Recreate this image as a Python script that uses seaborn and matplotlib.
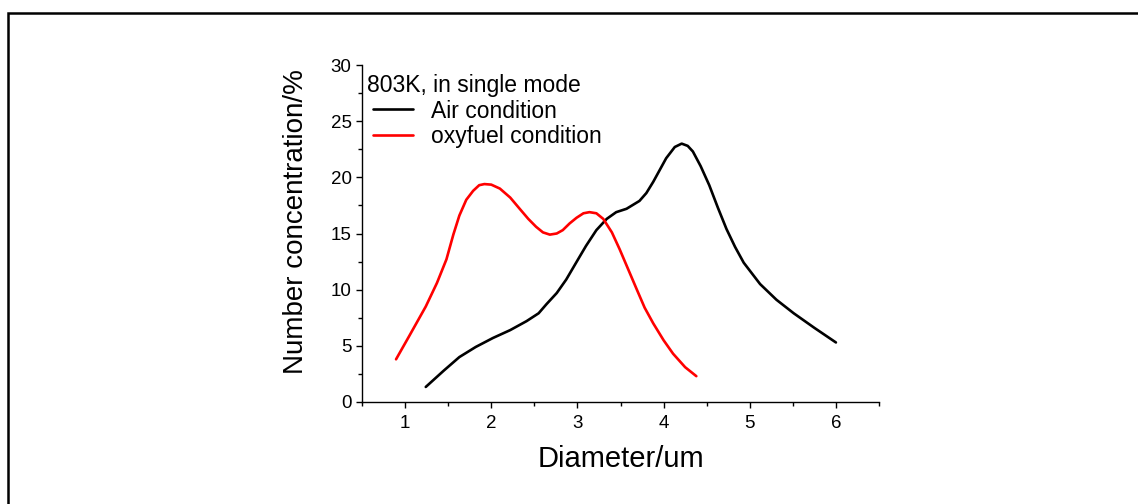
import matplotlib
matplotlib.use("Agg")
import matplotlib.pyplot as plt
import matplotlib.patches as mpatches
from matplotlib.ticker import MultipleLocator
import seaborn as sns
import pandas as pd

air_x = [1.24, 1.45, 1.63, 1.82, 2.02, 2.22, 2.41, 2.55, 2.64, 2.76, 2.87, 3.00, 3.10, 3.22,
         3.34, 3.45, 3.57, 3.72, 3.80, 3.88, 4.03, 4.13, 4.21, 4.28, 4.34, 4.43, 4.53, 4.63,
         4.73, 4.83, 4.93, 5.12, 5.31, 5.51, 5.75, 6.00]
air_y = [1.34, 2.8, 4.0, 4.9, 5.7, 6.4, 7.2, 7.9, 8.7, 9.7, 10.9, 12.6, 13.9, 15.3,
         16.3, 16.9, 17.2, 17.9, 18.6, 19.6, 21.7, 22.7, 23.0, 22.8, 22.3, 21.0, 19.3, 17.3,
         15.4, 13.8, 12.4, 10.5, 9.1, 7.9, 6.6, 5.3]
oxy_x = [0.895, 1.05, 1.24, 1.37, 1.48, 1.56, 1.63, 1.71, 1.79, 1.86, 1.92, 2.00, 2.10, 2.22,
         2.33, 2.43, 2.52, 2.60, 2.68, 2.76, 2.83, 2.91, 2.99, 3.07, 3.14, 3.22, 3.30, 3.40,
         3.49, 3.59, 3.69, 3.78, 3.88, 4.00, 4.11, 4.25, 4.38]
oxy_y = [3.8, 5.9, 8.5, 10.6, 12.7, 14.9, 16.6, 18.0, 18.8, 19.3, 19.4, 19.35, 19.0, 18.2,
         17.2, 16.3, 15.6, 15.1, 14.9, 15.0, 15.3, 15.9, 16.4, 16.8, 16.9, 16.8, 16.3, 15.1,
         13.6, 11.8, 10.0, 8.4, 7.0, 5.5, 4.3, 3.1, 2.3]
series_names = ["Air condition", "oxyfuel condition"]
legend_title = "803K, in single mode"
x_label = "Diameter/um"
y_label = "Number concentration/%"

sns.set_style("ticks")
plt.rcParams["font.family"] = ["Liberation Sans", "DejaVu Sans"]
plt.rcParams["text.color"] = "black"
plt.rcParams["axes.labelcolor"] = "black"
plt.rcParams["xtick.color"] = "black"
plt.rcParams["ytick.color"] = "black"

df = pd.concat([
    pd.DataFrame({"x": air_x, "y": air_y, "cond": series_names[0]}),
    pd.DataFrame({"x": oxy_x, "y": oxy_y, "cond": series_names[1]}),
])

W, H = 1138, 504
fig = plt.figure(figsize=(W / 100, H / 100), dpi=100)
ax = fig.add_axes([362 / W, 1 - 402 / H, (879 - 362) / W, (402 - 65) / H])
sns.lineplot(data=df, x="x", y="y", hue="cond",
             palette={series_names[0]: "black", series_names[1]: "#ff0000"},
             sort=False, estimator=None, linewidth=1.9, ax=ax)

ax.set_xlim(0.5, 6.5)
ax.set_ylim(0, 30)
ax.xaxis.set_major_locator(MultipleLocator(1))
ax.xaxis.set_minor_locator(MultipleLocator(0.5))
ax.yaxis.set_major_locator(MultipleLocator(5))
ax.yaxis.set_minor_locator(MultipleLocator(2.5))
ax.tick_params(which="major", direction="out", length=4.5, width=1, labelsize=13.5,
               color="black", labelcolor="black", pad=3)
ax.tick_params(which="minor", direction="out", length=3, width=1, color="black")
ax.tick_params(axis="x", pad=5)
for s in ["top", "right"]:
    ax.spines[s].set_visible(False)
for s in ["left", "bottom"]:
    ax.spines[s].set_linewidth(1.0)
    ax.spines[s].set_color("black")

ax.set_xlabel(x_label, fontsize=21, labelpad=9, color="black")
ax.set_ylabel(y_label, fontsize=20, color="black")
ax.yaxis.set_label_coords(-0.103, 0.534)

# legend: title as free text, entries indented
ax.text(367 / W, 1 - 85 / H, legend_title, transform=fig.transFigure, fontsize=16.5,
        ha="left", va="center", color="black")
ax.get_legend().remove()
handles, labels = ax.get_legend_handles_labels()
leg = fig.legend(handles, labels, loc="upper left", bbox_to_anchor=(373 / W, 1 - 99.5 / H),
                 frameon=False, fontsize=16.5, handlelength=1.75, handletextpad=0.8,
                 labelspacing=0.12, borderpad=0.0, borderaxespad=0.0)
for line in leg.get_lines():
    line.set_linewidth(1.9)

rect = mpatches.Rectangle((7.5 / W, -0.1), 1.2, 1 - 12.5 / H + 0.1, transform=fig.transFigure,
                          fill=False, edgecolor="black", linewidth=1.8)
fig.patches.append(rect)

fig.savefig("out.png", dpi=100, facecolor="white")
